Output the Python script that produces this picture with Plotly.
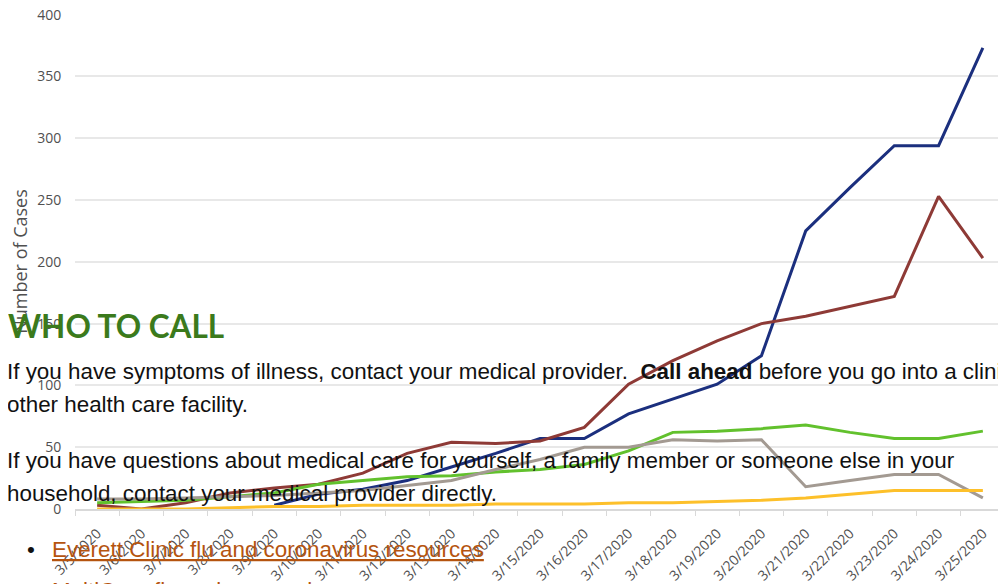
import plotly.graph_objects as go

dates = ["3/5/2020", "3/6/2020", "3/7/2020", "3/8/2020", "3/9/2020", "3/10/2020",
         "3/11/2020", "3/12/2020", "3/13/2020", "3/14/2020", "3/15/2020", "3/16/2020",
         "3/17/2020", "3/18/2020", "3/19/2020", "3/20/2020", "3/21/2020", "3/22/2020",
         "3/23/2020", "3/24/2020", "3/25/2020"]

navy_series = [None, None, None, None, 3, 12, 16, 23, 34, 45, 57, 57, 77, 89, 101, 124, 225, 260, 294, 294, 373]
maroon_series = [3, 0, 5, 13, 17, 20, 29, 45, 54, 53, 55, 66, 101, 120, 136, 150, 156, 164, 172, 253, 203]
green_series = [5, 6, 7, 10, 13, 20, 23, 26, 27, 30, 32, 36, 47, 62, 63, 65, 68, 62, 57, 57, 63]
gray_series = [8, 8, 9, 10, 11, 13, 15, 19, 23, 32, 40, 50, 50, 56, 55, 56, 18, 23, 28, 28, 9]
gold_series = [0, 0, 0, 1, 2, 2, 3, 3, 3, 4, 4, 4, 5, 5, 6, 7, 9, 12, 15, 15, 15]

y_ticks = [0, 50, 100, 150, 200, 250, 300, 350, 400]

series = [
    ("Series A", navy_series, "#1b2f7e"),
    ("Series B", maroon_series, "#8e3a36"),
    ("Series C", green_series, "#62c12d"),
    ("Series D", gray_series, "#a39a92"),
    ("Series E", gold_series, "#fdc02a"),
]

# page body has an 8px default margin: work in viewport pixels and shift
OFF = 8
W, H = 1006, 584
ML, MT = 75 - OFF, 14 - OFF
MR = W - (1005 - OFF)
MB = H - (509 - OFF)
PW, PH = W - ML - MR, H - MT - MB

fig = go.Figure()
for name, vals, col in series:
    fig.add_trace(go.Scatter(x=dates, y=vals, mode="lines", name=name,
                             line=dict(color=col, width=3), connectgaps=False))

def px_x(p):
    return (p - OFF - ML) / PW

def px_y(p):
    return (H - MB - (p - OFF)) / PH

body_font = dict(family="Liberation Sans, Arial, sans-serif", size=22.4, color="#111111")
link_font = dict(family="Liberation Sans, Arial, sans-serif", size=22.4, color="#b5540f")

annotations = [
    dict(text="<b>WHO TO CALL</b>", x=px_x(6), y=px_y(326), xanchor="left", yanchor="middle",
         font=dict(family="Lato, Open Sans, sans-serif", size=31.5, color="#3b7a1c")),
    dict(text="If you have symptoms of illness, contact your medical provider.  <b>Call ahead</b> before you go into a clinic or",
         x=px_x(5), y=px_y(371), xanchor="left", yanchor="middle", font=body_font),
    dict(text="other health care facility.", x=px_x(5), y=px_y(404), xanchor="left", yanchor="middle", font=body_font),
    dict(text="If you have questions about medical care for yourself, a family member or someone else in your",
         x=px_x(5), y=px_y(460), xanchor="left", yanchor="middle", font=body_font),
    dict(text="household, contact your medical provider directly.", x=px_x(5), y=px_y(493),
         xanchor="left", yanchor="middle", font=body_font),
    dict(text="•", x=px_x(25), y=px_y(549), xanchor="left", yanchor="middle", font=body_font),
    dict(text="<span style='text-decoration:underline'>Everett Clinic flu and coronavirus resources</span>",
         x=px_x(50), y=px_y(549), xanchor="left", yanchor="middle", font=link_font),
    dict(text="MultiCare flu and coronavirus resources", x=px_x(50), y=px_y(576), xanchor="left", yanchor="top",
         font=link_font),
]
for a in annotations:
    a.update(xref="paper", yref="paper", showarrow=False)

fig.update_layout(
    width=W, height=H,
    margin=dict(l=ML, r=MR, t=MT, b=MB),
    paper_bgcolor="white", plot_bgcolor="white",
    showlegend=False,
    font=dict(family="Open Sans, sans-serif", color="#595959"),
    xaxis=dict(type="category", tickangle=-45, tickson="boundaries", ticks="outside",
               ticklen=5, tickcolor="#d9d9d9", showgrid=False, showline=True,
               linecolor="#d9d9d9", linewidth=1.5, range=[-0.5, 20.5], automargin=False,
               ticklabelstandoff=9, ticklabeloverflow="allow",
               tickfont=dict(size=14, color="#505050")),
    yaxis=dict(range=[0, 400.5], tickvals=y_ticks, showgrid=True, gridcolor="#e8e8e8",
               gridwidth=1.5, zeroline=False, showline=False, automargin=False,
               ticks="outside", ticklen=10, tickcolor="rgba(0,0,0,0)",
               ticklabeloverflow="allow",
               tickfont=dict(size=14, color="#505050"),
               title=dict(text="Number of Cases", font=dict(size=18, color="#505050"), standoff=6)),
    annotations=annotations,
)

fig.write_html("out.html")
